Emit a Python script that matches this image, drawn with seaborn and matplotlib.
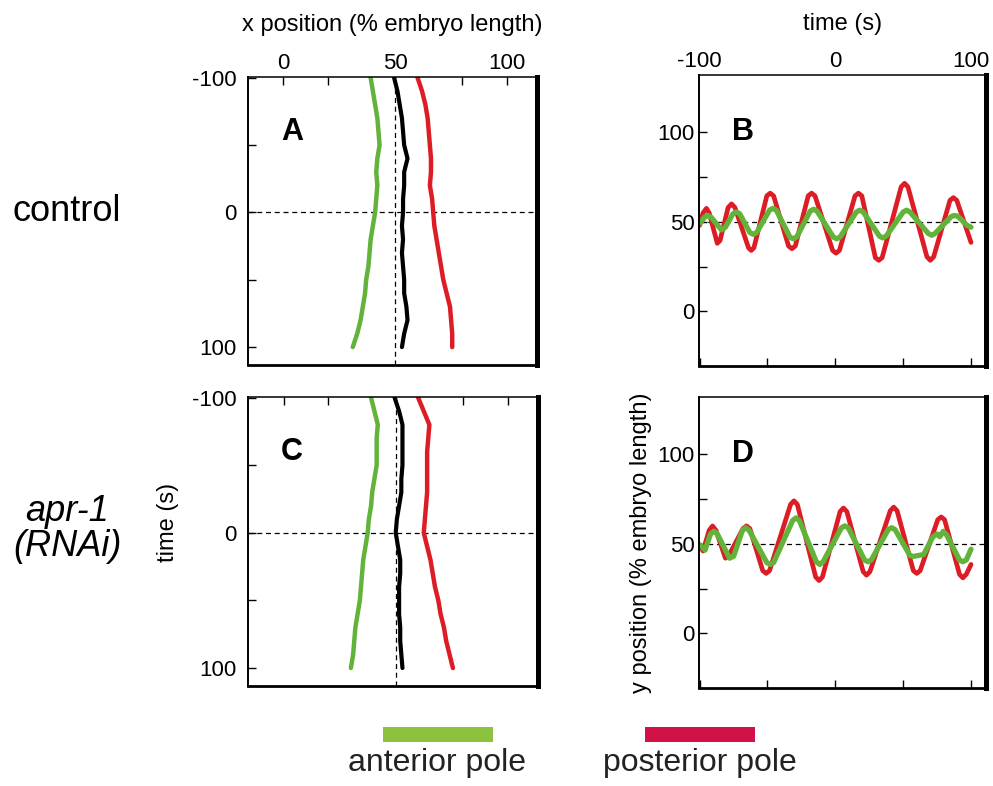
import numpy as np
import matplotlib
matplotlib.use("Agg")
import matplotlib.pyplot as plt
from matplotlib.patches import Rectangle
import seaborn as sns

# ---- data ----
# panels A / C: x position (% embryo length) against time (s), every 10 s
t_xy = [-100, -90, -80, -70, -60, -50, -40, -30, -20, -10, 0,
        10, 20, 30, 40, 50, 60, 70, 80, 90, 100]

a_ant = [39, 40, 41, 42, 42.5, 43, 42, 41.5, 42, 41.5, 41,
         40, 39, 38.5, 38, 37, 36.5, 35.5, 34.5, 33, 31]
a_mid = [49.5, 51, 52, 53, 53.5, 54, 55.5, 54, 54, 53.5, 53.5,
         53, 53.5, 53, 53.5, 54, 54, 55, 55.5, 54, 53]
a_post = [60, 62, 63.5, 64.5, 65, 65.5, 66, 66, 65.5, 66.5, 67,
          67.5, 68.5, 69.5, 70.5, 71.5, 73, 74.5, 75, 75.5, 75.5]

c_ant = [39, 40.5, 42, 41.5, 41.5, 41.5, 40.5, 39.5, 39, 38, 37.5,
         36.5, 35.5, 35, 34.5, 34, 33, 32, 31.5, 31, 30]
c_mid = [49.5, 51.5, 53, 53, 53, 53, 52.5, 52.5, 51.5, 50.5, 50,
         51, 52, 52, 51.5, 51.5, 51.5, 52, 52, 52.5, 53]
c_post = [60, 62.5, 65, 64.5, 64, 64, 64, 64, 63.5, 63, 62.5,
          64, 65.5, 66.5, 67.5, 69, 70, 71.5, 72.5, 74, 75.5]

# panels B / D: y position (% embryo length) against time (s)
b_post_t = [-100, -97.5, -95, -93, -87, -85, -79, -76.5, -74, -64, -62, -60,
            -50.5, -48, -45.5, -34.5, -32, -29.5, -20, -17.5, -15, -2, 0.5, 3,
            14.5, 17, 19.5, 29.5, 32, 34.5, 48.5, 51, 53.5, 67.5, 70, 72.5,
            84.5, 87, 89.5, 100]
b_post = [48, 55, 57.5, 55, 38, 39.5, 58, 60, 58, 35.5, 34, 35.5,
          64.5, 66, 64.5, 36.5, 35, 36.5, 64.5, 66, 64.5, 34, 32.5, 34,
          64.5, 66, 64.5, 30, 28.5, 30, 69.5, 71.5, 69.5, 30.5, 28.5, 30.5,
          62, 63.5, 62, 38.5]

b_ant_t = [-100, -96.5, -94, -91.5, -84, -81, -75.5, -73, -70.5, -63, -60.5, -58,
           -48.5, -46, -43.5, -33.5, -31, -28.5, -18.5, -16, -13.5, -1.5, 1, 3.5,
           15.5, 18, 20.5, 32.5, 35, 37.5, 50, 52.5, 55, 68.5, 71, 73.5,
           85.5, 88, 90.5, 97, 100]
b_ant = [49, 52.5, 53.5, 52.5, 45.5, 47, 54.5, 55.5, 54.5, 44, 43, 44,
         56.5, 57.5, 56.5, 41.5, 40.5, 41.5, 56, 57, 56, 41.5, 40.5, 41.5,
         55.5, 56.5, 55.5, 42, 41, 42, 55.5, 56.5, 55.5, 43.5, 42.5, 43.5,
         53, 53.5, 53, 48, 47]

d_post_t = [-100, -97.5, -93, -90.5, -88, -81, -78.5, -68, -65.5, -63,
            -53.5, -51, -48.5, -33, -30.5, -28, -14.5, -12, -9.5,
            3.5, 6, 8.5, 20.5, 23, 25.5, 40.5, 43, 45.5, 57.5, 60, 62.5,
            75.5, 78, 80.5, 91.5, 94, 96.5, 100]
d_post = [49.5, 46, 57.5, 60, 57.5, 42, 43.5, 58.5, 60, 58.5,
          35, 33.5, 35, 72, 74, 72, 31.5, 29.5, 31.5,
          68, 70, 68, 34.5, 32.5, 34.5, 68.5, 70.5, 68.5, 35, 33.5, 35,
          63.5, 65, 63.5, 33, 31, 33, 38.5]

d_ant_t = [-100, -96, -92, -89.5, -87, -78, -75, -68.5, -66, -63.5,
           -50.5, -48, -45.5, -31.5, -29, -26.5, -14, -11.5, -9,
           4.5, 7, 9.5, 21.5, 24, 26.5, 39, 41.5, 44, 55, 57.5, 65,
           72, 75, 77, 79.5, 82, 91.5, 94, 96.5, 100]
d_ant = [49.5, 46.5, 55.5, 57, 55.5, 42, 43, 57.5, 59, 57.5,
         39.5, 38.5, 39.5, 63, 64.5, 63, 40, 38.5, 40,
         59, 60, 59, 41, 40, 41, 58, 59, 58, 43.5, 43, 44,
         54, 55.5, 54, 57, 55, 41, 40, 41, 47]

GREEN = "#62b33a"
RED = "#dc1d26"
LEG_GREEN = "#8dc23f"
LEG_RED = "#d21148"

sns.set_style("white")
plt.rcParams["font.family"] = ["Liberation Sans", "DejaVu Sans"]
plt.rcParams.update({"text.color": "black", "axes.labelcolor": "black",
                     "xtick.color": "black", "ytick.color": "black"})

fig = plt.figure(figsize=(9.93, 7.86), dpi=100)
ax_a = fig.add_axes([0.2497, 0.5356, 0.2910, 0.3664])
ax_b = fig.add_axes([0.7039, 0.5344, 0.2890, 0.3702])
ax_c = fig.add_axes([0.2497, 0.1272, 0.2920, 0.3677])
ax_d = fig.add_axes([0.7039, 0.1247, 0.2890, 0.3702])

dash = (0, (4, 3))


def frame(ax):
    for side, lw in [("left", 1.4), ("bottom", 2.0), ("top", 1.1), ("right", 3.6)]:
        ax.spines[side].set_visible(True)
        ax.spines[side].set_color("black")
        ax.spines[side].set_linewidth(lw)


# x-position panels
for ax, ant, mid, post, letter in [(ax_a, a_ant, a_mid, a_post, "A"),
                                   (ax_c, c_ant, c_mid, c_post, "C")]:
    ax.axhline(0, color="black", lw=0.9, ls=dash, zorder=1)
    ax.axvline(50, color="black", lw=0.9, ls=dash, zorder=1)
    sns.lineplot(x=ant, y=t_xy, sort=False, estimator=None, color=GREEN, lw=3.2, ax=ax)
    sns.lineplot(x=mid, y=t_xy, sort=False, estimator=None, color="black", lw=3.0, ax=ax)
    sns.lineplot(x=post, y=t_xy, sort=False, estimator=None, color=RED, lw=3.2, ax=ax)
    ax.set_xlim(-15.9, 113.4)
    ax.set_ylim(113.3, -100.5)
    ax.set_xticks([0, 20, 50, 80, 100])
    ax.set_yticks([-100, -50, 0, 50, 100])
    ax.set_yticklabels(["-100", "", "0", "", "100"])
    if letter == "A":
        ax.set_xticklabels(["0", "", "50", "", "100"])
        ax.tick_params(axis="x", top=True, labeltop=True, bottom=False, labelbottom=False,
                       direction="in", length=6, width=1, pad=2, labelsize=16)
        ax.set_xlabel("x position (% embryo length)", fontsize=17, labelpad=16)
        ax.xaxis.set_label_position("top")
    else:
        ax.tick_params(axis="x", top=True, labeltop=False, bottom=False, labelbottom=False,
                       direction="in", length=6, width=1)
        ax.set_xlabel("")
    ax.tick_params(axis="y", left=True, direction="in", length=6, width=1, pad=8, labelsize=16)
    ax.set_ylabel("")
    frame(ax)
    ax.text(0.152, 0.81, letter, transform=ax.transAxes, ha="center", va="center",
            fontsize=22, fontweight="bold")

# y-position panels
for ax, pt, pv, at, av, letter in [(ax_b, b_post_t, b_post, b_ant_t, b_ant, "B"),
                                   (ax_d, d_post_t, d_post, d_ant_t, d_ant, "D")]:
    ax.axhline(50, color="black", lw=0.9, ls=dash, zorder=1)
    sns.lineplot(x=pt, y=pv, sort=False, estimator=None, color=RED, lw=3.4, ax=ax)
    sns.lineplot(x=at, y=av, sort=False, estimator=None, color=GREEN, lw=3.8, ax=ax)
    ax.set_xlim(-100.5, 111)
    ax.set_ylim(-30.5, 132)
    ax.set_xticks([-100, -50, 0, 50, 100])
    ax.set_yticks([0, 25, 50, 75, 100])
    ax.set_yticklabels(["0", "", "50", "", "100"])
    if letter == "B":
        ax.set_xticklabels(["-100", "", "0", "", "100"])
        ax.tick_params(axis="x", top=False, labeltop=True, bottom=True, labelbottom=False,
                       direction="in", length=6, width=1, pad=2, labelsize=16)
        ax.set_xlabel("time (s)", fontsize=17, labelpad=15)
        ax.xaxis.set_label_position("top")
    else:
        ax.tick_params(axis="x", top=False, labeltop=False, bottom=True, labelbottom=False,
                       direction="in", length=6, width=1)
        ax.set_xlabel("")
    ax.tick_params(axis="y", left=True, direction="in", length=6, width=1, pad=3, labelsize=16)
    ax.set_ylabel("")
    frame(ax)
    ax.text(0.153, 0.805, letter, transform=ax.transAxes, ha="center", va="center",
            fontsize=22, fontweight="bold")

# row and axis labels
fig.text(0.0675, 0.731, "control", ha="center", va="center", fontsize=26)
fig.text(0.0675, 0.327, "apr-1\n(RNAi)", ha="center", va="center", fontsize=26,
         style="italic", linespacing=1.0)
fig.text(0.169, 0.335, "time (s)", rotation=90, ha="center", va="center", fontsize=17)
fig.text(0.6455, 0.309, "y position (% embryo length)", rotation=90,
         ha="center", va="center", fontsize=17)

# legend
fig.add_artist(Rectangle((0.3857, 0.0560), 0.1108, 0.0191, transform=fig.transFigure,
                         facecolor=LEG_GREEN, edgecolor="none"))
fig.add_artist(Rectangle((0.6495, 0.0560), 0.1108, 0.0191, transform=fig.transFigure,
                         facecolor=LEG_RED, edgecolor="none"))
fig.text(0.4401, 0.0293, "anterior pole", ha="center", va="center", fontsize=23, color="#222222")
fig.text(0.7050, 0.0293, "posterior pole", ha="center", va="center", fontsize=23, color="#222222")

fig.savefig("out.png", dpi=100)
